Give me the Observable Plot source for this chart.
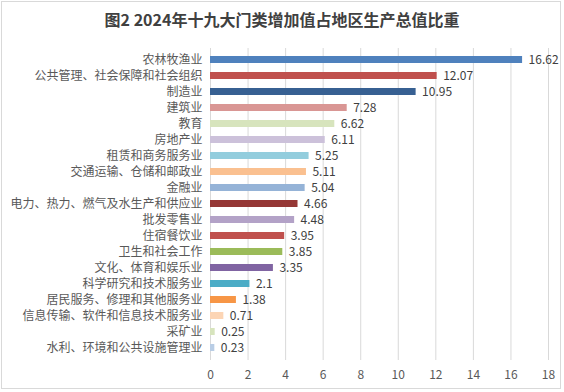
<!DOCTYPE html>
<html><head><meta charset="utf-8">
<script src="https://cdn.jsdelivr.net/npm/d3@7"></script>
<script src="https://cdn.jsdelivr.net/npm/@observablehq/plot@0.6"></script>
<style>
html,body{margin:0;padding:0;background:#fff;}
#wrap{position:relative;width:564px;height:392px;overflow:hidden;}
#border{position:absolute;left:1px;top:1px;width:558px;height:386px;border:1px solid #d9d9d9;}
#title{position:absolute;left:0;top:6px;width:564px;text-align:center;font-family:"Noto Sans CJK SC",sans-serif;font-weight:bold;font-size:16px;color:#404040;line-height:26px;}
#chart{position:absolute;left:0;top:40px;width:564px;height:348px;}
#chart svg{display:block;}
</style></head>
<body><div id="wrap"><div id="border"></div><div id="title">图2 2024年十九大门类增加值占地区生产总值比重</div><div id="chart"></div></div>
<script>
const categories = ["农林牧渔业","公共管理、社会保障和社会组织","制造业","建筑业","教育","房地产业","租赁和商务服务业","交通运输、仓储和邮政业","金融业","电力、热力、燃气及水生产和供应业","批发零售业","住宿餐饮业","卫生和社会工作","文化、体育和娱乐业","科学研究和技术服务业","居民服务、修理和其他服务业","信息传输、软件和信息技术服务业","采矿业","水利、环境和公共设施管理业"];
const values = [16.62,12.07,10.95,7.28,6.62,6.11,5.25,5.11,5.04,4.66,4.48,3.95,3.85,3.35,2.1,1.38,0.71,0.25,0.23];
const colors = ["#4F81BD","#C0504D","#376092","#D99694","#D7E4BD","#CCC1DA","#93CDDD","#FAC090","#95B3D7","#953735","#B3A2C7","#C0504D","#9BBB59","#8064A2","#4BACC6","#F79646","#FCD5B5","#D7E4BD","#B9CDE5"];
const xTicks = [0,2,4,6,8,10,12,14,16,18];

const data = categories.map((name,i)=>({name, value: values[i]}));
const font = '"Noto Sans CJK SC", sans-serif';

const chart = Plot.plot({
  width: 564, height: 348,
  marginLeft: 210, marginRight: 16, marginTop: 8, marginBottom: 28,
  style: {fontFamily: font, fontSize: "12px", color: "#595959", background: "transparent", overflow: "visible"},
  x: {domain: [0,18], label: null},
  y: {domain: categories, paddingInner: 0.56, paddingOuter: 0.28, label: null},
  color: {domain: categories, range: colors},
  marks: [
    Plot.gridX(xTicks, {stroke: "#d9d9d9", strokeOpacity: 1}),
    Plot.axisX(xTicks, {tickSize: 0, tickPadding: 10, fontSize: 12, fill: "#595959", label: null}),
    Plot.axisY({tickSize: 0, tickPadding: 8, fontSize: 12, fill: "#595959", label: null}),
    Plot.barX(data, {x: "value", y: "name", fill: "name"}),
    Plot.text(data, {x: "value", y: "name", text: d => String(d.value), textAnchor: "start", dx: 6, fontSize: 12, fill: "#404040"})
  ]
});
document.getElementById("chart").appendChild(chart);
</script></body></html>
